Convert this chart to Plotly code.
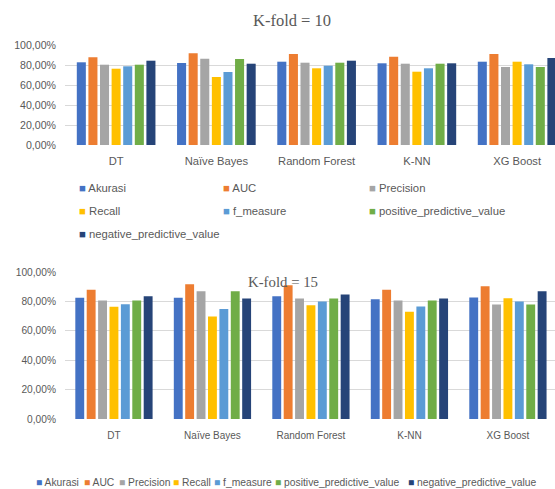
import plotly.graph_objects as go

W, H = 555, 489

models = ["DT", "Naïve Bayes", "Random Forest", "K-NN", "XG Boost"]
metrics = ["Akurasi", "AUC", "Precision", "Recall", "f_measure",
           "positive_predictive_value", "negative_predictive_value"]
colors = ["#4472C4", "#ED7D31", "#A5A5A5", "#FFC000", "#5B9BD5", "#70AD47", "#264478"]

# K-fold = 10 scores (%), one list per metric, ordered like `models`
akurasi_10 = [82.7, 82.0, 83.3, 81.7, 83.3]
auc_10 = [87.7, 91.7, 91.0, 88.3, 91.0]
precision_10 = [80.3, 86.3, 82.3, 81.3, 78.0]
recall_10 = [76.3, 68.0, 76.7, 73.3, 83.3]
f_measure_10 = [78.7, 73.0, 79.3, 76.7, 80.7]
ppv_10 = [80.3, 86.0, 82.3, 81.3, 78.0]
npv_10 = [84.3, 81.3, 84.3, 81.7, 87.0]

# K-fold = 15 scores (%)
akurasi_15 = [82.4, 82.4, 83.5, 81.5, 82.6]
auc_15 = [88.0, 91.6, 91.0, 88.0, 90.3]
precision_15 = [80.6, 86.9, 81.9, 80.6, 77.9]
recall_15 = [76.3, 69.8, 77.4, 72.9, 82.2]
f_measure_15 = [78.1, 74.9, 79.9, 76.5, 79.9]
ppv_15 = [80.6, 86.9, 81.9, 80.6, 77.9]
npv_15 = [83.5, 81.9, 84.7, 81.9, 86.9]

series_10 = [akurasi_10, auc_10, precision_10, recall_10, f_measure_10, ppv_10, npv_10]
series_15 = [akurasi_15, auc_15, precision_15, recall_15, f_measure_15, ppv_15, npv_15]

y_ticks = [0, 0.2, 0.4, 0.6, 0.8, 1.0]

TXT = "#595959"
GRID = "#D9D9D9"
SANS = "Liberation Sans"
SERIF = "Liberation Serif"


def px_x(p):
    return p / W


def px_y(p):
    return 1 - p / H


fig = go.Figure()

for name, col, v10, v15 in zip(metrics, colors, series_10, series_15):
    fig.add_trace(go.Bar(x=models, y=[v / 100 for v in v10], name=name,
                         marker=dict(color=col, line=dict(width=0)), showlegend=False,
                         xaxis="x", yaxis="y"))
    fig.add_trace(go.Bar(x=models, y=[v / 100 for v in v15], name=name,
                         marker=dict(color=col, line=dict(width=0)), showlegend=False,
                         xaxis="x2", yaxis="y2"))

yax = dict(range=[0, 1], tickvals=y_ticks, tickformat=".2%", showgrid=True,
           gridcolor=GRID, gridwidth=1, zeroline=False, showline=False,
           ticks="", ticklabelstandoff=8, automargin=False)
xax = dict(type="category", showgrid=False, zeroline=False, showline=False,
           ticks="", automargin=False)

fig.update_layout(
    width=W, height=H,
    margin=dict(l=0, r=0, t=0, b=0, pad=0, autoexpand=False),
    paper_bgcolor="white", plot_bgcolor="white",
    separators=",.",
    barmode="group", bargap=0.19, bargroupgap=0.22,
    showlegend=False,
    font=dict(family=SANS, color=TXT),
    xaxis=dict(**xax, domain=[px_x(65), 1], range=[-0.51, 4.378], anchor="y",
               ticklabelstandoff=8, tickfont=dict(size=11.2, color=TXT)),
    yaxis=dict(**yax, domain=[px_y(145), px_y(45)], anchor="x",
               tickfont=dict(size=10.6, color=TXT)),
    xaxis2=dict(**xax, domain=[px_x(65), 1], range=[-0.497, 4.478], anchor="y2",
                ticklabelstandoff=9, tickfont=dict(size=10.0, color=TXT)),
    yaxis2=dict(**yax, domain=[px_y(419), px_y(272)], anchor="x2",
                tickfont=dict(size=10.2, color=TXT)),
)

annotations = [
    dict(text="K-fold = 10", x=px_x(292), y=px_y(20), xref="paper", yref="paper",
         xanchor="center", yanchor="middle", showarrow=False,
         font=dict(family=SERIF, size=16.5, color=TXT)),
    dict(text="K-fold = 15", x=px_x(283), y=px_y(282), xref="paper", yref="paper",
         xanchor="center", yanchor="middle", showarrow=False,
         font=dict(family=SERIF, size=14.8, color=TXT)),
]

# legend for the K-fold = 10 panel: three columns
top_cols = [77, 221, 367]
top_rows = [188, 211, 234]
for i, (name, col) in enumerate(zip(metrics, colors)):
    annotations.append(dict(
        text=f'<span style="color:{col}">■</span> {name}',
        x=px_x(top_cols[i % 3]), y=px_y(top_rows[i // 3]),
        xref="paper", yref="paper", xanchor="left", yanchor="middle",
        showarrow=False, font=dict(family=SANS, size=11.3, color=TXT)))

# legend for the K-fold = 15 panel: a single row
bottom_x = [34, 82, 117, 171, 212, 273, 406]
for name, col, xp in zip(metrics, colors, bottom_x):
    annotations.append(dict(
        text=f'<span style="color:{col}">■</span> {name}',
        x=px_x(xp), y=px_y(482),
        xref="paper", yref="paper", xanchor="left", yanchor="middle",
        showarrow=False, font=dict(family=SANS, size=10.3, color=TXT)))

fig.update_layout(annotations=annotations)

fig.write_html("out.html")
